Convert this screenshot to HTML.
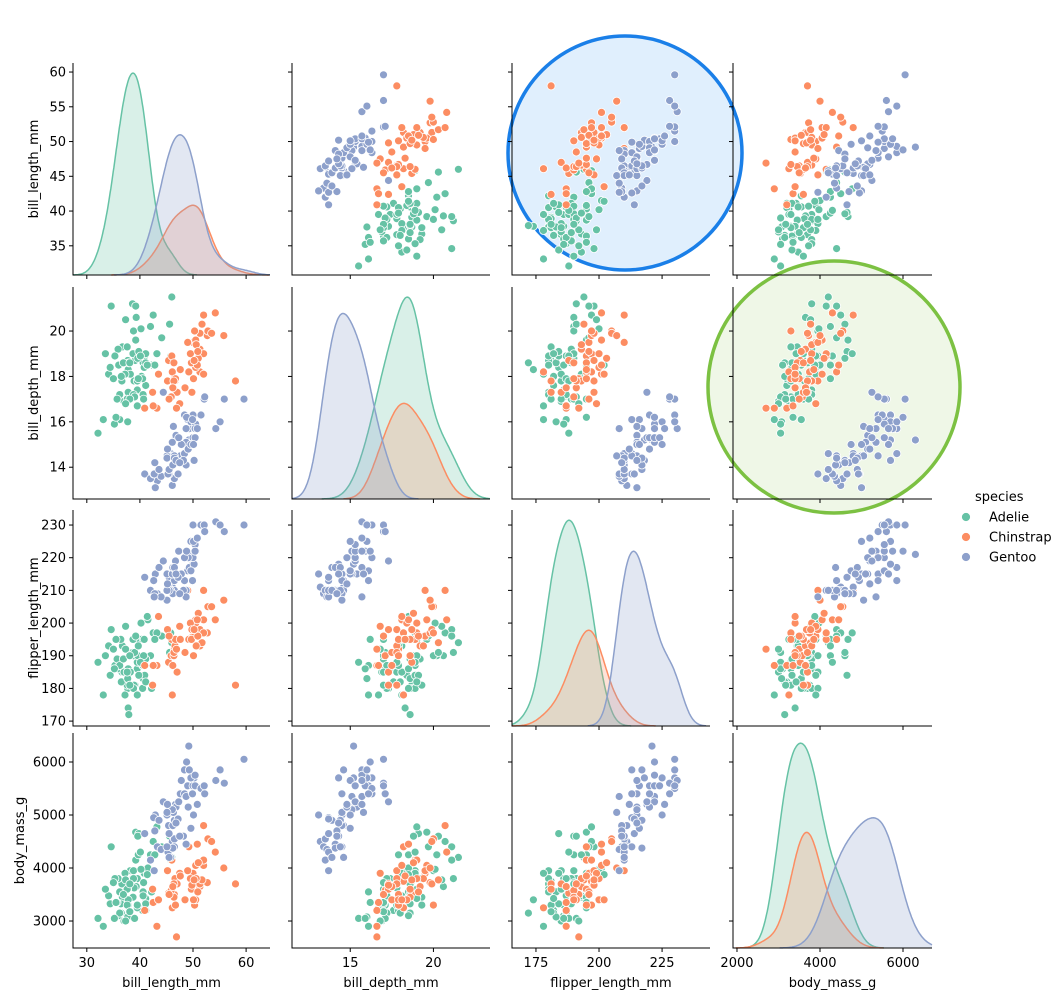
<!DOCTYPE html>
<html><head><meta charset="utf-8"><style>
html,body{margin:0;padding:0;background:#fff;}
svg{display:block;font-family:"DejaVu Sans","Liberation Sans",sans-serif;}
</style></head><body>
<svg id="fig" width="1064" height="1000" viewBox="0 0 1064 1000" xmlns="http://www.w3.org/2000/svg"></svg>
<script>
// data: [bill_length_mm, bill_depth_mm, flipper_length_mm, body_mass_g]
const speciesNames = ["Adelie","Chinstrap","Gentoo"];
const speciesColors = ["#66c2a5","#fc8d62","#8da0cb"];
const speciesCounts = [151,68,123];
const variables = ["bill_length_mm","bill_depth_mm","flipper_length_mm","body_mass_g"];
const adelie = [
[39.1,18.7,181,3750],[39.5,17.4,186,3800],[40.3,18.0,195,3250],[36.7,19.3,193,3450],[39.3,20.6,190,3650],
[38.9,17.8,181,3625],[39.2,19.6,195,4675],[34.1,18.1,193,3475],[42.0,20.2,190,4250],[37.8,17.1,186,3300],
[37.8,17.3,180,3700],[41.1,17.6,182,3200],[38.6,21.2,191,3800],[34.6,21.1,198,4400],[36.6,17.8,185,3700],
[38.7,19.0,195,3450],[42.5,20.7,197,4500],[34.4,18.4,184,3325],[46.0,21.5,194,4200],[37.8,18.3,174,3400],
[37.7,18.7,180,3600],[35.9,19.2,189,3800],[38.2,18.1,185,3950],[38.8,17.2,180,3800],[35.3,18.9,187,3800],
[40.6,18.6,183,3550],[40.5,17.9,187,3200],[37.9,18.6,172,3150],[40.5,18.9,180,3950],[39.5,16.7,178,3250],
[37.2,18.1,178,3900],[39.5,17.8,188,3300],[40.9,18.9,184,3900],[36.4,17.0,195,3325],[39.2,21.1,196,4150],
[38.8,20.0,190,3950],[42.2,18.5,180,3550],[37.6,19.3,181,3300],[39.8,19.1,184,4650],[36.5,18.0,182,3150],
[40.8,18.4,195,3900],[36.0,18.5,186,3100],[44.1,19.7,196,4400],[37.0,16.9,185,3000],[39.6,18.8,190,4600],
[41.1,19.0,182,3425],[36.2,17.2,187,3150],[37.3,20.5,199,3775],[35.7,17.0,189,3350],[41.1,18.6,189,3325],
[36.2,16.1,187,3550],[37.7,16.0,183,3075],[45.8,18.9,197,4150],[32.1,15.5,188,3050],[33.5,19.0,190,3600],
[40.6,17.2,187,3475],[37.6,17.0,185,3600],[35.2,15.9,186,3050],[43.2,19.0,197,4775],[40.7,17.0,190,3725],
[39.0,17.1,191,3050],[35.0,17.9,192,3725],[41.5,18.5,201,4000],[40.2,20.1,200,3975],[38.1,17.0,181,3175],
[36.9,18.6,189,3500],[42.8,18.5,195,4250],[45.6,20.3,191,4600],[33.1,16.1,178,2900],[37.3,16.8,192,3000],
[39.7,17.9,193,4250],[38.1,18.6,190,3700],[40.1,18.9,188,4300],[35.5,16.2,195,3350],[41.4,18.5,202,3875]
];
const chinstrap = [
[46.5,17.9,192,3500],[50.0,19.5,196,3900],[51.3,19.2,193,3650],[45.4,18.7,188,3525],[52.7,19.8,197,3725],
[45.2,17.8,198,3950],[46.1,18.2,178,3250],[51.3,18.2,197,3750],[46.0,18.9,195,4150],[51.3,19.9,198,3700],
[46.6,17.8,193,3800],[51.7,20.3,194,3775],[47.0,17.3,185,3700],[52.0,18.1,201,4050],[45.9,17.1,190,3575],
[50.5,19.6,201,4050],[50.3,20.0,197,3300],[58.0,17.8,181,3700],[46.4,18.6,190,3450],[49.2,18.2,195,4400],
[42.4,17.3,181,3600],[48.5,17.5,191,3400],[43.2,16.6,187,2900],[50.6,19.4,193,3800],[46.7,17.9,195,3300],
[52.0,19.0,197,4150],[50.5,18.4,200,3400],[49.5,19.0,200,3800],[46.4,17.8,191,3700],[52.8,20.0,205,4550],
[40.9,16.6,187,3200],[54.2,20.8,201,4300],[42.5,16.7,187,3350],[51.0,18.8,203,4100],[49.7,18.6,195,3600],
[47.5,16.8,199,3900],[47.6,18.3,195,3850],[52.0,20.7,210,4800],[46.9,16.6,192,2700],[53.5,19.9,205,4500],
[49.0,19.5,210,3950],[46.2,17.5,187,3650],[50.9,19.1,196,3550],[45.5,17.0,196,3500],[50.8,18.5,201,4450],
[50.1,17.9,190,3400],[49.8,17.3,198,3675],[55.8,19.8,207,4000],[43.5,18.1,202,3400],[50.2,18.7,198,3775]
];
const gentoo = [
[46.1,13.2,211,4500],[50.0,16.3,230,5700],[48.7,14.1,210,4450],[50.0,15.2,218,5700],[47.6,14.5,215,5400],
[46.5,13.5,210,4550],[45.4,14.6,211,4800],[46.7,15.3,219,5200],[43.3,13.4,209,4400],[46.8,15.4,215,5150],
[40.9,13.7,214,4650],[49.0,16.1,216,5550],[45.5,13.7,214,4650],[48.4,14.6,213,5850],[45.8,14.6,210,4200],
[49.3,15.7,217,5850],[42.0,13.5,210,4150],[49.2,15.2,221,6300],[46.2,14.5,209,4800],[48.7,15.1,222,5350],
[50.2,14.3,218,5700],[45.1,14.5,215,5000],[46.5,14.5,213,4400],[46.3,15.8,215,5050],[42.9,13.1,215,5000],
[46.1,15.1,215,5100],[47.8,15.0,215,5650],[48.2,14.3,210,4600],[50.0,15.3,220,5550],[47.3,15.3,222,5250],
[42.8,14.2,209,4700],[45.1,14.5,207,5050],[59.6,17.0,230,6050],[49.1,14.8,220,5150],[48.4,16.3,220,5400],
[42.6,13.7,213,4950],[44.4,17.3,219,5250],[44.0,13.6,208,4350],[48.7,15.7,208,5350],[42.7,13.7,208,3950],
[49.6,16.0,225,5700],[45.3,13.7,210,4300],[49.6,15.0,216,4750],[50.5,15.9,222,5550],[43.6,13.9,217,4900],
[45.5,13.9,210,4200],[50.4,15.3,224,5550],[46.2,14.1,217,4375],[45.1,14.4,210,4400],[46.5,14.4,217,4900],
[50.1,15.0,225,5000],[50.4,15.7,222,5750],[54.3,15.7,231,5650],[51.5,16.3,230,5500],[55.9,17.0,228,5600],
[52.1,17.0,230,5550],[55.1,16.0,230,5850],[48.8,16.2,222,6000],[47.2,13.7,214,4925],[46.8,14.3,215,4850],
[52.2,17.1,228,5400],[50.8,15.7,226,5200],[49.9,16.1,213,5400],[45.2,14.8,212,5200],[47.5,14.2,209,4600]
];
const tickLabels = [[30,40,50,60],[15,20],[175,200,225],[2000,4000,6000]];
const yTickLabels = [[35,40,45,50,55,60],[14,16,18,20],[170,180,190,200,210,220,230],[3000,4000,5000,6000]];
const domains = [[27.4,64.5],[11.5,23.4],[165.5,244],[1904,6699]];
const yDomains = [[30.8,61.3],[12.6,21.94],[168.5,234.6],[2491,6547]];

const groups = [adelie, chinstrap, gentoo];
const colL = [73,292,512,733], colR = [270,490,710,932];
const rowT = [63,287,510,733], rowB = [275,499,726,948];
const NS = "http://www.w3.org/2000/svg";
const svg = document.getElementById("fig");
function mk(tag, attrs, parent){ const e=document.createElementNS(NS,tag); for(const k in attrs) e.setAttribute(k,attrs[k]); (parent||svg).appendChild(e); return e; }
function xs(c,v){ const d=domains[c]; return colL[c]+(v-d[0])/(d[1]-d[0])*(colR[c]-colL[c]); }
function ys(r,v){ const d=yDomains[r]; return rowB[r]-(v-d[0])/(d[1]-d[0])*(rowB[r]-rowT[r]); }

const c1 = mk("circle",{cx:625,cy:153,r:117,fill:"rgba(0,120,240,0.12)",stroke:"#1a7fe8","stroke-width":3.5});


const c2 = mk("circle",{cx:834,cy:387,r:126,fill:"rgba(120,190,60,0.12)",stroke:"#7cc142","stroke-width":3.5});



const N = speciesCounts.reduce((a,b)=>a+b,0);
for(let r=0;r<4;r++){
  for(let c=0;c<4;c++){
    const g = mk("g",{});
    
    
    if(r===c){
      const d=domains[c];
      const curves=[]; let mx=0;
      groups.forEach((grp,si)=>{
        const vals=grp.map(p=>p[c]); const n=vals.length;
        const m=vals.reduce((a,b)=>a+b,0)/n;
        const sd=Math.sqrt(vals.reduce((a,b)=>a+(b-m)*(b-m),0)/(n-1));
        const bw=1.3*sd*Math.pow(n,-0.2);
        const lo=Math.max(d[0],Math.min(...vals)-3*bw), hi=Math.min(d[1],Math.max(...vals)+3*bw);
        const pts=[];
        for(let i=0;i<=200;i++){ const x=lo+(hi-lo)*i/200; let s=0; for(const v of vals){ const z=(x-v)/bw; s+=Math.exp(-0.5*z*z);} const y=s/(n*bw*Math.sqrt(2*Math.PI))*speciesCounts[si]/N; pts.push([x,y]); if(y>mx) mx=y; }
        curves.push(pts);
      });
      const top=rowT[r], bot=rowB[r], h=(bot-top)/1.05;
      curves.forEach((pts,si)=>{
        const P=pts.map(p=>[xs(c,p[0]), bot-p[1]/mx*h]);
        const line=P.map((p,i)=>(i?"L":"M")+p[0].toFixed(1)+","+p[1].toFixed(1)).join("");
        const f=mk("path",{d:line+"L"+P[P.length-1][0].toFixed(1)+","+bot+"L"+P[0][0].toFixed(1)+","+bot+"Z",fill:speciesColors[si],"fill-opacity":0.25,stroke:"none"},g);
        
        
        const l=mk("path",{d:line,fill:"none",stroke:speciesColors[si],"stroke-width":1.5},g);
        
        
      });
    } else {
      groups.forEach((grp,si)=>{
        grp.forEach(p=>{
          const pt=mk("circle",{cx:xs(c,p[c]).toFixed(1),cy:ys(r,p[r]).toFixed(1),r:4,fill:speciesColors[si],stroke:"#fff","stroke-width":0.8},g);
          
          
        });
      });
    }
    const sp=mk("path",{d:`M${colL[c]},${rowT[r]}V${rowB[r]}H${colR[c]}`,fill:"none",stroke:"#000","stroke-width":1},g);
    
    
    yTickLabels[r].forEach(v=>{
      const y=ys(r,v);
      mk("line",{x1:colL[c]-4,x2:colL[c],y1:y,y2:y,stroke:"#000"},g);
      if(c===0){
        const t=mk("text",{x:colL[c]-7,y:y+4.5,"text-anchor":"end","font-size":13},g); t.textContent=v;
        
        
      }
    });
    tickLabels[c].forEach(v=>{
      const x=xs(c,v);
      mk("line",{x1:x,x2:x,y1:rowB[r],y2:rowB[r]+4,stroke:"#000"},g);
      if(r===3){
        const t=mk("text",{x:x,y:rowB[r]+19,"text-anchor":"middle","font-size":13},g); t.textContent=v;
        
        
      }
    });
  }
}
for(let i=0;i<4;i++){
  const yc=(rowT[i]+rowB[i])/2;
  const t=mk("text",{x:0,y:0,transform:`translate(${i===3?24:38},${yc}) rotate(-90)`,"text-anchor":"middle","font-size":13}); t.textContent=variables[i];
  
  
  const xt=mk("text",{x:(colL[i]+colR[i])/2,y:987,"text-anchor":"middle","font-size":13}); xt.textContent=variables[i];
  
  
}
const lg=mk("g",{});


const lt=mk("text",{x:975,y:501,"font-size":13},lg); lt.textContent="species";


speciesNames.forEach((s,i)=>{
  const y=517+i*20;
  const m=mk("circle",{cx:966,cy:y,r:4.5,fill:speciesColors[i],stroke:"#fff","stroke-width":0.8},lg);
  
  
  const t=mk("text",{x:989,y:y+4.5,"font-size":13},lg); t.textContent=s;
  
  
});
</script>
</body></html>
